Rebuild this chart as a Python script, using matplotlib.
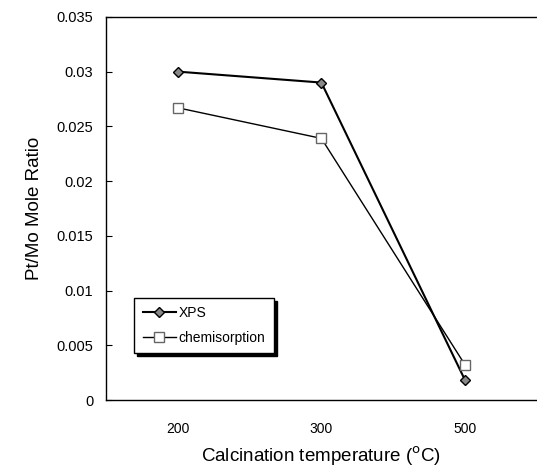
import matplotlib; matplotlib.use("Agg"); import matplotlib.pyplot as plt
import numpy as np

plt.rcParams['font.family'] = ['Liberation Sans', 'DejaVu Sans']

temps = ["200", "300", "500"]
xps = [0.0300, 0.0290, 0.0018]
chemisorption = [0.0267, 0.0239, 0.0032]
yticks = [0, 0.005, 0.01, 0.015, 0.02, 0.025, 0.03, 0.035]
ylabels = ["0", "0.005", "0.01", "0.015", "0.02", "0.025", "0.03", "0.035"]

fig = plt.figure(figsize=(5.37, 4.69), dpi=100)
ax = fig.add_axes([0.197, 0.147, 0.803, 0.817])
x = np.arange(len(temps))
ax.plot(x, xps, "-", color="black", lw=1.5, marker="D", ms=5,
        mfc="#888888", mec="black", mew=1.0, label="XPS")
ax.plot(x, chemisorption, "-", color="black", lw=1.0, marker="s", ms=7,
        mfc="white", mec="#666666", mew=1.0, label="chemisorption")

ax.set_xlim(-0.5, 2.5)
ax.set_ylim(0, 0.035)
ax.set_xticks(x)
ax.set_xticklabels(temps)
ax.set_yticks(yticks)
ax.set_yticklabels(ylabels)
ax.tick_params(axis="x", length=0, pad=16, labelsize=10)
ax.tick_params(axis="y", direction="in", length=4, pad=9, labelsize=10.5)
for s in ["top", "left", "bottom"]:
    ax.spines[s].set_linewidth(1.0)
ax.spines["right"].set_visible(False)

ax.set_ylabel("Pt/Mo Mole Ratio", fontsize=13.5, labelpad=10)
ax.set_xlabel("Calcination temperature ($^{\\rm o}$C)", fontsize=13.5, labelpad=6)

leg = ax.legend(loc="lower left", bbox_to_anchor=(0.066, 0.123), borderaxespad=0,
                frameon=True, fancybox=False,
                shadow={"color": "black", "alpha": 1},
                edgecolor="black", fontsize=10, handlelength=2.4,
                handletextpad=0.2, borderpad=0.6, labelspacing=0.75)
leg.get_frame().set_linewidth(1.0)

fig.savefig("out.png", dpi=100)
